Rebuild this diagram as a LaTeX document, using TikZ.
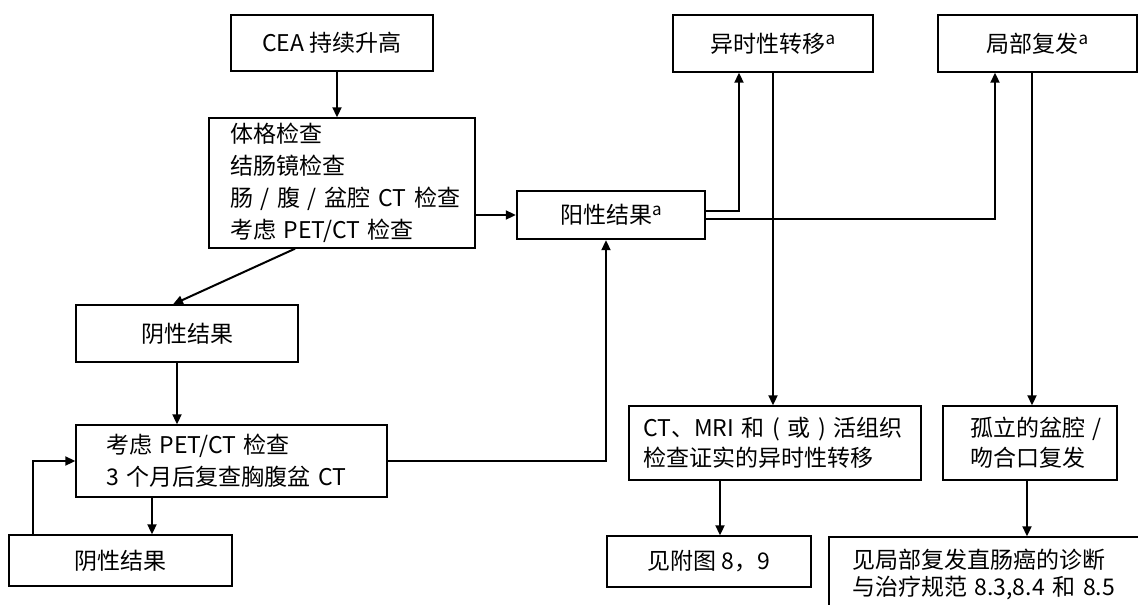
\documentclass[tikz,border=0pt]{standalone}
\usepackage{fontspec}
\setmainfont{Noto Sans CJK SC}
\usepackage{tikz}
\usetikzlibrary{positioning}
\usetikzlibrary{arrows.meta}

\newcommand{\supa}{\raisebox{8pt}{\fontsize{17}{17}\selectfont a}}

\begin{document}
\begin{tikzpicture}[x=1pt,y=-1pt,
        box/.style={draw,line width=1.4pt,inner sep=0pt,font=\fontsize{23}{32}\selectfont},
        arr/.style={-{Triangle[length=10pt,width=9pt]},line width=2pt}]
            \useasboundingbox (0,0) rectangle (1138,605);
            \fill[white] (0,0) rectangle (1138,605);
            \clip (0,0) rectangle (1138,605);

            \begin{scope}[every node/.style={box}]
                \node[minimum width=202pt,minimum height=56pt] (cea) at (332,43) {CEA 持续升高};
                \node[minimum width=266pt,minimum height=130pt,text width=224pt,align=left] (exam) at (342,183)
                    {体格检查\\结肠镜检查\\\mbox{肠 / 腹 / 盆腔 CT 检查}\\\mbox{考虑 PET/CT 检查}};
                \node[minimum width=188pt,minimum height=48pt,line width=2.4pt] (pos) at (611,215) {阳性结果\supa};
                \node[minimum width=200pt,minimum height=57pt] (meta) at (773,43.5) {异时性转移\supa};
                \node[minimum width=199pt,minimum height=57pt] (local) at (1037.5,43.5) {局部复发\supa};
                \node[minimum width=222pt,minimum height=57pt] (neg1) at (187,333.5) {阴性结果};
                \node[minimum width=311pt,minimum height=72pt,text width=251pt,align=left] (pet) at (231.5,461)
                    {\mbox{考虑 PET/CT 检查}\\\mbox{3 个月后复查胸腹盆 CT}};
                \node[minimum width=223pt,minimum height=51pt] (neg2) at (120.5,560.5) {阴性结果};
                \node[minimum width=292pt,minimum height=74pt,text width=264pt,align=left,
                    font=\fontsize{23}{30}\selectfont] (ctmri) at (775,443)
                    {\mbox{CT、MRI 和 ( 或 ) 活组织}\\\mbox{检查证实的异时性转移}};
                \node[minimum width=174pt,minimum height=74pt,text width=120pt,align=left,
                    font=\fontsize{23}{30}\selectfont] (pelvic) at (1030,443)
                    {\mbox{孤立的盆腔 /}\\\mbox{吻合口复发}};
                \node[minimum width=204pt,minimum height=51pt] (fig89) at (709,561.5) {见附图 8，9};
                \node[minimum width=313pt,minimum height=75pt,text width=267pt,align=left,
                    font=\fontsize{23}{27}\selectfont] (guide) at (985.5,574.5)
                    {\mbox{见局部复发直肠癌的诊断}\\\mbox{与治疗规范 8.3,8.4 和 8.5}};
            \end{scope}

            % connectors
            \draw[arr] ([xshift=5pt]cea.south) -- ([xshift=5pt]cea.south |- exam.north);
            \draw[arr] (exam.east |- pos.west) -- (pos.west);
            \draw[arr] ([xshift=-47pt]exam.south) -- ([xshift=-14pt]neg1.north);
            \draw[arr] ([xshift=-10pt]neg1.south) -- ([xshift=-10pt]neg1.south |- pet.north);
            \draw[arr] ([xshift=-79.5pt]pet.south) -- ([xshift=-79.5pt]pet.south |- neg2.north);
            \draw[arr] ([xshift=-87.5pt]neg2.north) |- (pet.west);
            \draw[arr] (pet.east) -| ([xshift=-5pt]pos.south);
            \draw[arr] ([yshift=4pt]pos.east) -| ([xshift=-34pt]meta.south);
            \draw[arr] ([yshift=-4pt]pos.east) -| ([xshift=-42.5pt]local.south);
            \draw[arr] (meta.south) -- (meta.south |- ctmri.north);
            \draw[arr] ([xshift=2pt]pelvic.north |- local.south) -- ([xshift=2pt]pelvic.north);
            \draw[arr] ([xshift=-55pt]ctmri.south) -- ([xshift=-55pt]ctmri.south |- fig89.north);
            \draw[arr] ([xshift=-3pt]pelvic.south) -- ([xshift=-3pt]pelvic.south |- guide.north);
        \end{tikzpicture}
\end{document}
